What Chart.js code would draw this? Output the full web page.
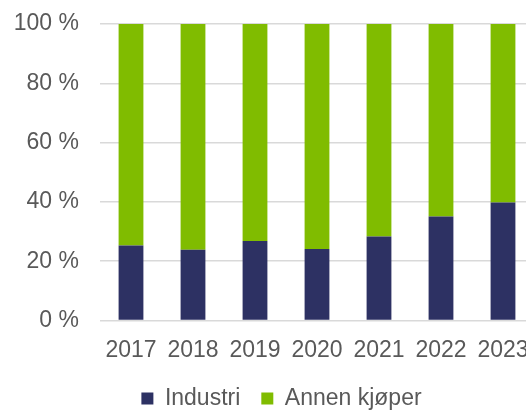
<!DOCTYPE html>
<html>
<head>
<meta charset="utf-8">
<script src="https://cdn.jsdelivr.net/npm/chart.js@4"></script>
<style>
    html, body { margin: 0; padding: 0; background: #fff; overflow: hidden; }
    #wrap { width: 526px; height: 410px; overflow: hidden; }
</style>
</head>
<body>
<div id="wrap"><canvas id="shareChart" width="545" height="420"></canvas></div>
<script>
    // Data
    const years = ['2017', '2018', '2019', '2020', '2021', '2022', '2023'];
    const industri = [25.3, 23.9, 26.8, 24.1, 28.3, 35.1, 39.8];
    const annenKjoper = [74.7, 76.1, 73.2, 75.9, 71.7, 64.9, 60.2];
    const yTicks = [0, 20, 40, 60, 80, 100];

    const textColor = '#595959';
    const font = { family: '"Liberation Sans", Arial, sans-serif', size: 23 };

    // nudge the legend a little to the right, like the original
    const legendShift = {
        id: 'legendShift',
        afterLayout(chart) {
            chart.legend.left += 8;
            chart.legend.right += 8;
        }
    };

    const ctx = document.getElementById('shareChart').getContext('2d');
    const shareChart = new Chart(ctx, {
        type: 'bar',
        data: {
            labels: years,
            datasets: [{
                label: 'Industri',
                data: industri,
                backgroundColor: '#2d3163',
                barPercentage: 0.4,
                categoryPercentage: 1
            }, {
                label: 'Annen kjøper',
                data: annenKjoper,
                backgroundColor: '#80bc00',
                barPercentage: 0.4,
                categoryPercentage: 1
            }]
        },
        options: {
            responsive: false,
            animation: false,
            layout: {
                padding: { left: 13, right: 11, top: 24, bottom: 0 }
            },
            plugins: {
                legend: {
                    position: 'bottom',
                    labels: {
                        color: textColor,
                        font: font,
                        boxWidth: 12,
                        boxHeight: 12,
                        padding: 21
                    }
                },
                tooltip: { enabled: false }
            },
            scales: {
                x: {
                    stacked: true,
                    grid: { display: false, drawTicks: false },
                    border: { display: false },
                    ticks: { color: textColor, font: font, padding: 16, maxRotation: 0, autoSkip: false },
                    afterFit: function(scale) {
                        scale.height = 45.5;
                        scale.paddingLeft = 0;
                        scale.paddingRight = 0;
                    }
                },
                y: {
                    stacked: true,
                    min: 0,
                    max: 100,
                    afterBuildTicks: function(scale) {
                        scale.ticks = yTicks.map(v => ({ value: v }));
                    },
                    grid: { color: '#d9d9d9', lineWidth: 1.5, drawTicks: false },
                    border: { display: false },
                    ticks: {
                        color: textColor,
                        font: font,
                        padding: 21,
                        callback: function(value) {
                            return value + ' %';
                        }
                    },
                    afterFit: function(scale) {
                        scale.width = 87;
                        scale.paddingTop = 0;
                        scale.paddingBottom = 0;
                    }
                }
            }
        },
        plugins: [legendShift]
    });
</script>
</body>
</html>
